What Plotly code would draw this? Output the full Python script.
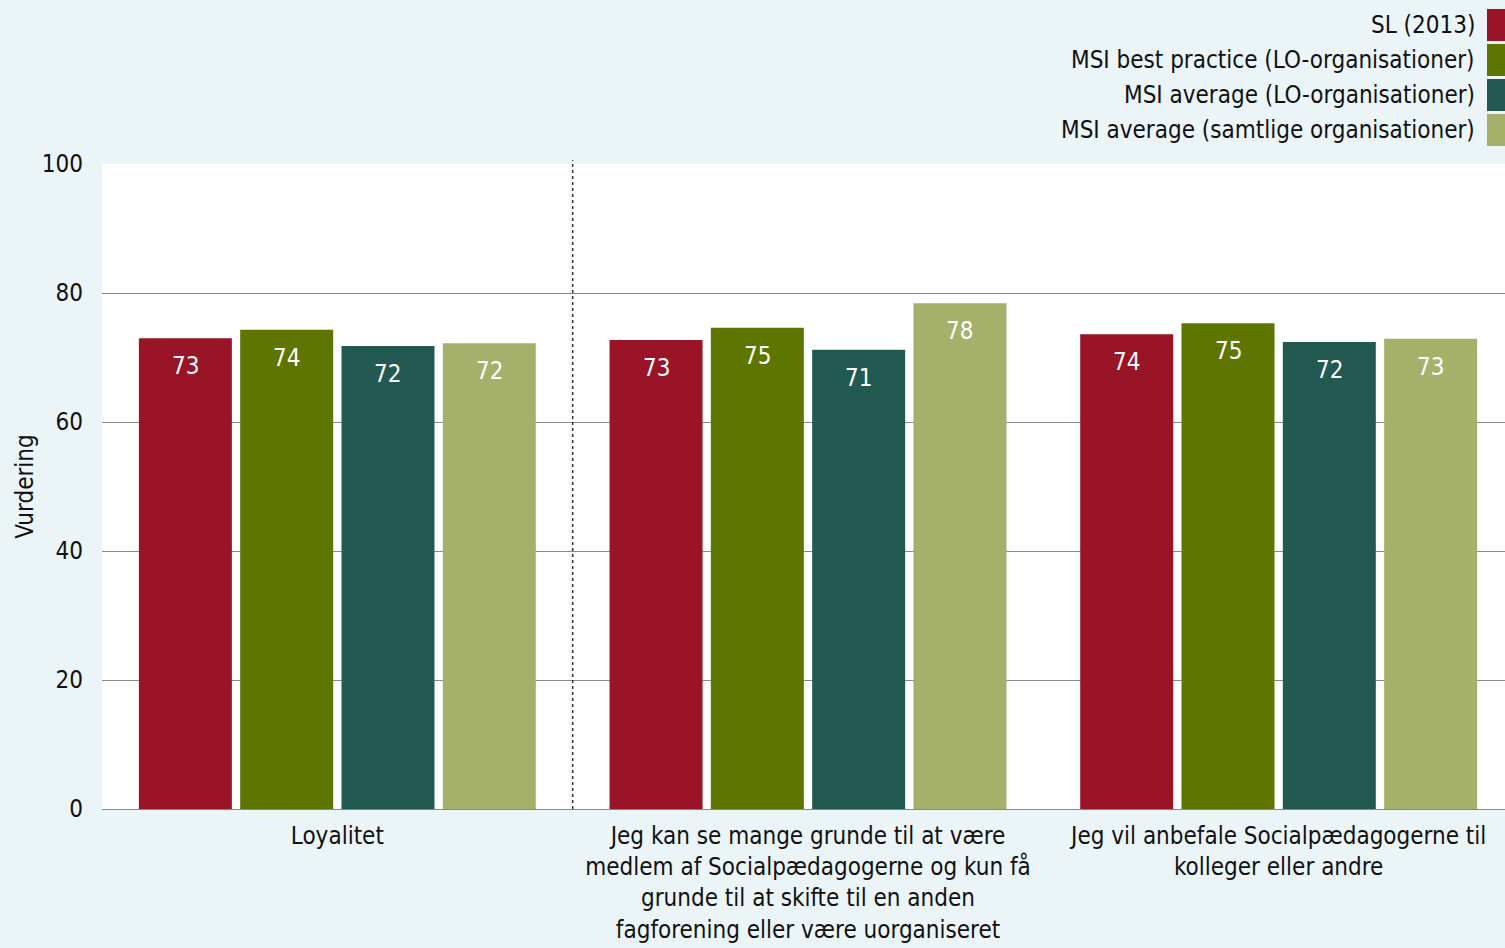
import plotly.graph_objects as go

categories = [
    "Loyalitet",
    "Jeg kan se mange grunde til at være<br>medlem af Socialpædagogerne og kun få<br>grunde til at skifte til en anden<br>fagforening eller være uorganiseret",
    "Jeg vil anbefale Socialpædagogerne til<br>kolleger eller andre",
]
series_names = [
    "SL (2013)",
    "MSI best practice (LO-organisationer)",
    "MSI average (LO-organisationer)",
    "MSI average (samtlige organisationer)",
]
sl_2013 = [73.0, 72.7, 73.6]
msi_best_lo = [74.3, 74.6, 75.3]
msi_avg_lo = [71.8, 71.2, 72.4]
msi_avg_all = [72.2, 78.4, 72.9]
series_values = [sl_2013, msi_best_lo, msi_avg_lo, msi_avg_all]
colors = ["#9A1427", "#5E7500", "#225950", "#A5B06A"]
y_ticks = [0, 20, 40, 60, 80, 100]

FONT = "DejaVu Sans Condensed, Liberation Sans Narrow, DejaVu Sans, sans-serif"
BG = "#EBF4F6"
BARGAP = 0.139
BARGROUPGAP = 0.082
FS = 24

# the plot area runs a little past the visible window on the right
FIG_W, FIG_H = 1514, 948
plot_top, plot_bottom, plot_left, plot_right = 164, 809, 102, 1514
pw = plot_right - plot_left
ph = plot_bottom - plot_top

fig = go.Figure()
for name, vals, col in zip(series_names, series_values, colors):
    fig.add_trace(go.Bar(
        x=list(range(len(categories))), y=vals, name=name,
        marker=dict(color=col, line=dict(width=0)),
        showlegend=False, hoverinfo="y",
    ))

# value labels inside the bars
n = len(series_values)
slot = (1 - BARGAP) / n
annotations = []
for i, vals in enumerate(series_values):
    for j, v in enumerate(vals):
        annotations.append(dict(
            x=j + (i - (n - 1) / 2) * slot, y=v, xref="x", yref="y",
            text=f"{round(v):d}", showarrow=False, yshift=-28,
            font=dict(family=FONT, size=FS, color="white"),
        ))

# manual legend (swatches to the right of the text)
row_px = [25, 60, 95, 130]
shapes = []
for name, col, ry in zip(series_names, colors, row_px):
    yc = (plot_bottom - ry) / ph
    annotations.append(dict(
        x=(1477 - plot_left) / pw, y=yc, xref="paper", yref="paper",
        xanchor="right", yanchor="middle", text=name, showarrow=False,
        font=dict(family=FONT, size=FS, color="#111111"),
    ))
    shapes.append(dict(
        type="rect", xref="paper", yref="paper",
        x0=(1487 - plot_left) / pw, x1=(1505 - plot_left) / pw,
        y0=(plot_bottom - (ry + 16)) / ph, y1=(plot_bottom - (ry - 16)) / ph,
        fillcolor=col, line=dict(width=0),
    ))

# dotted separator after the first category
shapes.append(dict(
    type="line", xref="x", yref="paper", x0=0.5, x1=0.5, y0=0, y1=1.006,
    line=dict(color="#333333", width=1.5, dash="dot"),
))

fig.update_layout(
    width=FIG_W, height=FIG_H,
    margin=dict(l=plot_left, r=FIG_W - plot_right, t=plot_top, b=FIG_H - plot_bottom),
    paper_bgcolor=BG, plot_bgcolor="white",
    barmode="group", bargap=BARGAP, bargroupgap=BARGROUPGAP,
    font=dict(family=FONT, size=FS, color="#111111"),
    annotations=annotations, shapes=shapes,
    xaxis=dict(
        tickmode="array", tickvals=list(range(len(categories))), ticktext=categories,
        range=[-0.5, len(categories) - 0.5], showgrid=False, zeroline=False,
        showline=False, ticks="", tickfont=dict(size=FS, color="#111111"),
        ticklabelstandoff=10,
    ),
    yaxis=dict(
        range=[0, 100], tickvals=y_ticks, showgrid=True, gridcolor="#888888",
        gridwidth=1, zeroline=True, zerolinecolor="#888888", zerolinewidth=1,
        showline=False, ticks="", ticklabelstandoff=18,
        tickfont=dict(size=FS, color="#111111"),
        title=dict(text="Vurdering", font=dict(size=FS, color="#111111"), standoff=1),
    ),
)

fig.write_html(
    "out.html",
    config=dict(displayModeBar=False),
    post_script="document.body.style.margin='0';document.body.style.overflow='hidden';",
)
